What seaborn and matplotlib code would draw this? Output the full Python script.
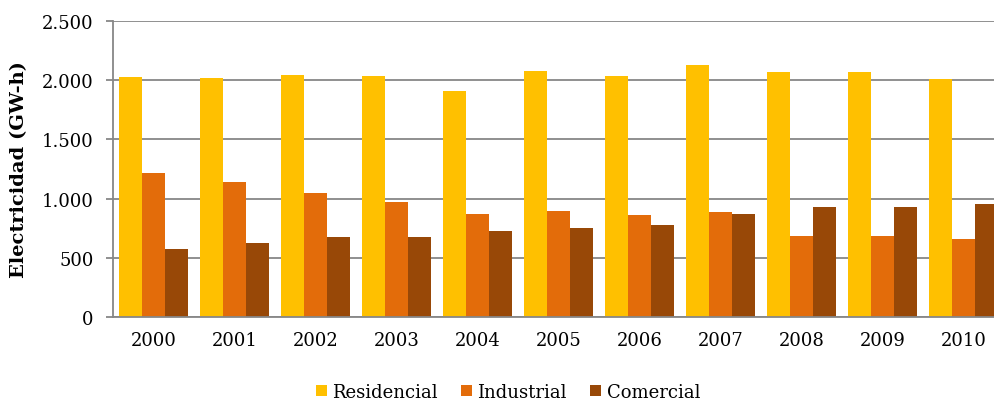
import matplotlib
matplotlib.use("Agg")
import matplotlib.pyplot as plt
import matplotlib.ticker as mticker
import seaborn as sns
import pandas as pd
from matplotlib.patches import Patch

years = ["2000", "2001", "2002", "2003", "2004", "2005", "2006", "2007", "2008", "2009", "2010"]
residencial = [2024, 2018, 2043, 2035, 1905, 2074, 2035, 2125, 2069, 2069, 2012]
industrial = [1215, 1144, 1046, 975, 874, 893, 860, 885, 685, 685, 657]
comercial = [578, 623, 674, 674, 724, 755, 781, 868, 933, 933, 955]
series = ["Residencial", "Industrial", "Comercial"]
colors = ["#FFC000", "#E36C0A", "#984807"]

rows = []
for name, vals in zip(series, [residencial, industrial, comercial]):
    for y, v in zip(years, vals):
        rows.append({"Año": y, "Serie": name, "Valor": v})
df = pd.DataFrame(rows)

sns.set_theme(style="white")
plt.rcParams["font.family"] = ["DejaVu Serif"]

fig = plt.figure(figsize=(9.94, 4.02), dpi=100)
ax = fig.add_axes([113/994, 84/402, 891/994, 296/402])

sns.barplot(data=df, x="Año", y="Valor", hue="Serie", hue_order=series,
            palette=colors, width=0.86, gap=0, saturation=1, ax=ax,
            edgecolor="none", linewidth=0, legend=False)

ax.set_xlim(-0.5, 10.5)
ax.set_ylim(0, 2500)
ax.set_yticks([0, 500, 1000, 1500, 2000, 2500])
ax.yaxis.set_major_formatter(mticker.FuncFormatter(lambda v, p: f"{int(v):,}".replace(",", ".")))
ax.grid(axis="y", color="#878787", linewidth=1.3)
ax.set_axisbelow(True)
for s in ["top", "right"]:
    ax.spines[s].set_visible(False)
for s in ["left", "bottom"]:
    ax.spines[s].set_color("#878787")
    ax.spines[s].set_linewidth(1.3)
ax.tick_params(axis="y", which="major", left=True, length=5, width=1.3, color="#878787",
               pad=9, labelsize=13, labelcolor="black")
ax.tick_params(axis="x", length=0, pad=10, labelsize=13, labelcolor="black")
ax.set_xlabel("")
ax.set_ylabel("Electricidad (GW-h)", fontsize=14, fontweight="bold", labelpad=10, color="black")

handles = [Patch(facecolor=c, edgecolor="none") for c in colors]
fig.legend(handles, series, loc="center", bbox_to_anchor=(0.511, 1 - 393/402), ncol=3,
           frameon=False, fontsize=13, handlelength=0.6, handleheight=0.6,
           handletextpad=0.3, columnspacing=1.3, labelcolor="black")

fig.savefig("out.png", dpi=100)
